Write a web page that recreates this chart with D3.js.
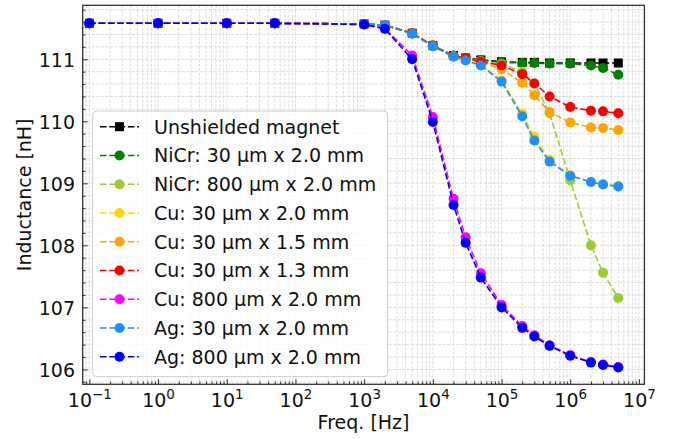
<!DOCTYPE html>
<html>
<head>
<meta charset="utf-8">
<title>Inductance vs frequency</title>
<style type="text/css">
    body { margin: 0; background: #fff; }
    #renderer { width: 679px; height: 439px; background: #fff; font-family: "DejaVu Sans", sans-serif; }
</style>
<script type="text/javascript" src="https://cdnjs.cloudflare.com/ajax/libs/d3/7.8.5/d3.min.js"></script>
</head>
<body>
<svg id="renderer" width="679" height="439"></svg>
<script type="text/javascript">
    // data
    var freqs = [0.1, 1, 10, 50, 1e3, 2e3, 5e3, 1e4, 2e4, 3e4, 5e4, 1e5, 2e5, 3e5, 5e5, 1e6, 2e6, 3e6, 5e6];

    var unshielded = [111.58, 111.58, 111.58, 111.58, 111.57, 111.55, 111.42, 111.22, 111.06, 111.02, 110.99, 110.96, 110.95, 110.95, 110.94, 110.94, 110.94, 110.94, 110.94];
    var nicr30 = [111.58, 111.58, 111.58, 111.58, 111.57, 111.55, 111.42, 111.22, 111.06, 111.02, 110.98, 110.95, 110.94, 110.94, 110.93, 110.93, 110.90, 110.86, 110.75];
    var nicr800 = [111.58, 111.58, 111.58, 111.58, 111.57, 111.55, 111.42, 111.22, 111.05, 111.01, 110.97, 110.92, 110.80, 110.61, 110.13, 109.05, 108.00, 107.56, 107.15];
    var cu30w20 = [111.58, 111.58, 111.58, 111.58, 111.57, 111.55, 111.41, 111.21, 111.05, 110.99, 110.91, 110.66, 110.12, 109.75, 109.38, 109.13, 109.02, 108.99, 108.96];
    var cu30w15 = [111.58, 111.58, 111.58, 111.58, 111.57, 111.55, 111.42, 111.22, 111.05, 111.01, 110.95, 110.84, 110.62, 110.42, 110.15, 109.98, 109.90, 109.89, 109.86];
    var cu30w13 = [111.58, 111.58, 111.58, 111.58, 111.57, 111.55, 111.42, 111.22, 111.05, 111.02, 110.96, 110.90, 110.76, 110.61, 110.40, 110.23, 110.17, 110.16, 110.13];
    var cu800 = [111.58, 111.58, 111.58, 111.58, 111.57, 111.50, 111.06, 110.07, 108.75, 108.13, 107.55, 107.04, 106.70, 106.55, 106.39, 106.23, 106.12, 106.08, 106.04];
    var ag30 = [111.58, 111.58, 111.58, 111.58, 111.57, 111.55, 111.41, 111.21, 111.04, 110.98, 110.90, 110.64, 110.08, 109.69, 109.35, 109.12, 109.02, 108.98, 108.95];
    var ag800 = [111.58, 111.58, 111.58, 111.58, 111.56, 111.49, 111.00, 109.99, 108.65, 108.04, 107.48, 107.00, 106.67, 106.53, 106.38, 106.22, 106.11, 106.07, 106.03];

    var seriesNames = ['Unshielded magnet', 'NiCr: 30 \u00b5m x 2.0 mm', 'NiCr: 800 \u00b5m x 2.0 mm',
        'Cu: 30 \u00b5m x 2.0 mm', 'Cu: 30 \u00b5m x 1.5 mm', 'Cu: 30 \u00b5m x 1.3 mm',
        'Cu: 800 \u00b5m x 2.0 mm', 'Ag: 30 \u00b5m x 2.0 mm', 'Ag: 800 \u00b5m x 2.0 mm'];
    var seriesValues = [unshielded, nicr30, nicr800, cu30w20, cu30w15, cu30w13, cu800, ag30, ag800];

    var xTickExps = [-1, 0, 1, 2, 3, 4, 5, 6, 7];
    var yTicks = [106, 107, 108, 109, 110, 111];

    // styling
    var colors = ['#000000', '#008000', '#9acd32', '#ffd700', '#ffa500', '#ff0000', '#ff00ff', '#1e90ff', '#0000ff'];
    var markerShapes = ['square', 'circle', 'circle', 'circle', 'circle', 'circle', 'circle', 'circle', 'circle'];

    var root = d3.select('#renderer');
    var plotLeft = 82.7, plotRight = 644.4, plotTop = 5.3, plotBottom = 384.3;
    var fontSize = 19;
    var markerR = 5, squareHalf = 4.5;

    var x = d3.scaleLog().domain([0.08, 1.2e7]).range([plotLeft, plotRight]);
    var y = d3.scaleLinear().domain([105.76, 111.87]).range([plotBottom, plotTop]);

    // minor values for grid and ticks
    var xMinor = [];
    for (var e = -2; e <= 7; e++) {
        for (var k = 2; k <= 9; k++) {
            var v = k * Math.pow(10, e);
            if (v > 0.08 && v < 1.2e7) xMinor.push(v);
        }
    }
    var xMajor = xTickExps.map(function (p) { return Math.pow(10, p); });
    var yMinor = d3.range(105.8, 111.85, 0.2).filter(function (v) {
        return Math.abs(v - Math.round(v)) > 0.01;
    });

    var grid = root.append('g');
    function gridLines(vals, vertical) {
        grid.selectAll(null).data(vals).enter().append('line')
            .attr('x1', function (d) { return vertical ? x(d) : plotLeft; })
            .attr('x2', function (d) { return vertical ? x(d) : plotRight; })
            .attr('y1', function (d) { return vertical ? plotTop : y(d); })
            .attr('y2', function (d) { return vertical ? plotBottom : y(d); })
            .attr('stroke', '#d3d3d3')
            .attr('stroke-width', 0.8)
            .attr('stroke-dasharray', '3,1.5');
    }
    gridLines(xMinor, true);
    gridLines(xMajor, true);
    gridLines(yMinor, false);
    gridLines(yTicks, false);

    // ticks (pointing inward)
    root.append('g').attr('transform', 'translate(0,' + plotBottom + ')')
        .call(d3.axisBottom(x).tickValues(xMinor).tickSize(-2.8).tickFormat(''))
        .call(function (g) { g.select('.domain').remove(); g.selectAll('line').attr('stroke', '#333'); });
    var xAxis = root.append('g').attr('transform', 'translate(0,' + plotBottom + ')')
        .call(d3.axisBottom(x).tickValues(xMajor).tickSize(-5).tickFormat(''))
        .call(function (g) { g.select('.domain').remove(); g.selectAll('line').attr('stroke', '#333'); });
    root.append('g').attr('transform', 'translate(' + plotLeft + ',0)')
        .call(d3.axisLeft(y).tickValues(yMinor).tickSize(-2.8).tickFormat(''))
        .call(function (g) { g.select('.domain').remove(); g.selectAll('line').attr('stroke', '#333'); });
    var yAxis = root.append('g').attr('transform', 'translate(' + plotLeft + ',0)')
        .call(d3.axisLeft(y).tickValues(yTicks).tickSize(-5).tickFormat(''))
        .call(function (g) { g.select('.domain').remove(); g.selectAll('line').attr('stroke', '#333'); });

    // x tick labels: 10 with superscript exponent
    xAxis.selectAll('.tick').each(function (d) {
        var exp = Math.round(Math.log10(d));
        var t = d3.select(this).append('text')
            .attr('x', 0).attr('y', 22.4)
            .attr('fill', '#111')
            .attr('font-size', fontSize)
            .attr('text-anchor', 'middle')
            .attr('font-family', '"DejaVu Sans", sans-serif');
        t.append('tspan').text('10');
        t.append('tspan').text(exp < 0 ? '\u2212' + (-exp) : exp)
            .attr('font-size', 13.5).attr('dy', -7.5);
    });
    yAxis.selectAll('.tick').append('text')
        .text(function (d) { return d; })
        .attr('x', -7.7).attr('y', 6.9)
        .attr('fill', '#111')
        .attr('font-size', fontSize)
        .attr('text-anchor', 'end')
        .attr('font-family', '"DejaVu Sans", sans-serif');

    // series: dashed lines with markers
    var line = d3.line()
        .x(function (d, i) { return x(freqs[i]); })
        .y(function (d) { return y(d); });

    for (var s = 0; s < seriesValues.length; s++) {
        var g = root.append('g');
        g.append('path')
            .attr('d', line(seriesValues[s]))
            .attr('fill', 'none')
            .attr('stroke', colors[s])
            .attr('stroke-width', 1.6)
            .attr('stroke-dasharray', '6.5,2.8');
        var pts = g.selectAll(null).data(seriesValues[s]).enter();
        if (markerShapes[s] === 'square') {
            pts.append('rect')
                .attr('x', function (d, i) { return x(freqs[i]) - squareHalf; })
                .attr('y', function (d) { return y(d) - squareHalf; })
                .attr('width', squareHalf * 2).attr('height', squareHalf * 2)
                .attr('fill', colors[s]);
        } else {
            pts.append('circle')
                .attr('cx', function (d, i) { return x(freqs[i]); })
                .attr('cy', function (d) { return y(d); })
                .attr('r', markerR)
                .attr('fill', colors[s]);
        }
    }

    // plot frame
    root.append('rect')
        .attr('x', plotLeft).attr('y', plotTop)
        .attr('width', plotRight - plotLeft).attr('height', plotBottom - plotTop)
        .attr('fill', 'none').attr('stroke', '#333').attr('stroke-width', 1.3);

    // axis labels
    root.append('text')
        .text('Freq. [Hz]')
        .attr('x', (plotLeft + plotRight) / 2).attr('y', 429)
        .attr('font-size', fontSize).attr('text-anchor', 'middle').attr('fill', '#111');
    root.append('text')
        .text('Inductance [nH]')
        .attr('transform', 'translate(31,' + ((plotTop + plotBottom) / 2) + ') rotate(-90)')
        .attr('font-size', fontSize).attr('text-anchor', 'middle').attr('fill', '#111');

    // legend
    var legendX = 92.7, legendY = 111, legendW = 295, legendH = 265.7, rowGap = 28.75;
    var legend = root.append('g');
    legend.append('rect')
        .attr('x', legendX).attr('y', legendY).attr('width', legendW).attr('height', legendH)
        .attr('rx', 4).attr('fill', '#fff').attr('fill-opacity', 0.8)
        .attr('stroke', '#cccccc').attr('stroke-width', 1);
    for (var j = 0; j < seriesNames.length; j++) {
        var rowY = legendY + 15.7 + j * rowGap;
        legend.append('line')
            .attr('x1', 100).attr('x2', 139).attr('y1', rowY).attr('y2', rowY)
            .attr('stroke', colors[j]).attr('stroke-width', 1.6)
            .attr('stroke-dasharray', '6.5,2.8');
        if (markerShapes[j] === 'square') {
            legend.append('rect')
                .attr('x', 119.5 - squareHalf).attr('y', rowY - squareHalf)
                .attr('width', squareHalf * 2).attr('height', squareHalf * 2)
                .attr('fill', colors[j]);
        } else {
            legend.append('circle')
                .attr('cx', 119.5).attr('cy', rowY).attr('r', markerR).attr('fill', colors[j]);
        }
        legend.append('text')
            .text(seriesNames[j])
            .attr('x', 154).attr('y', rowY + 6.9)
            .attr('font-size', fontSize).attr('fill', '#111');
    }
</script>
</body>
</html>
